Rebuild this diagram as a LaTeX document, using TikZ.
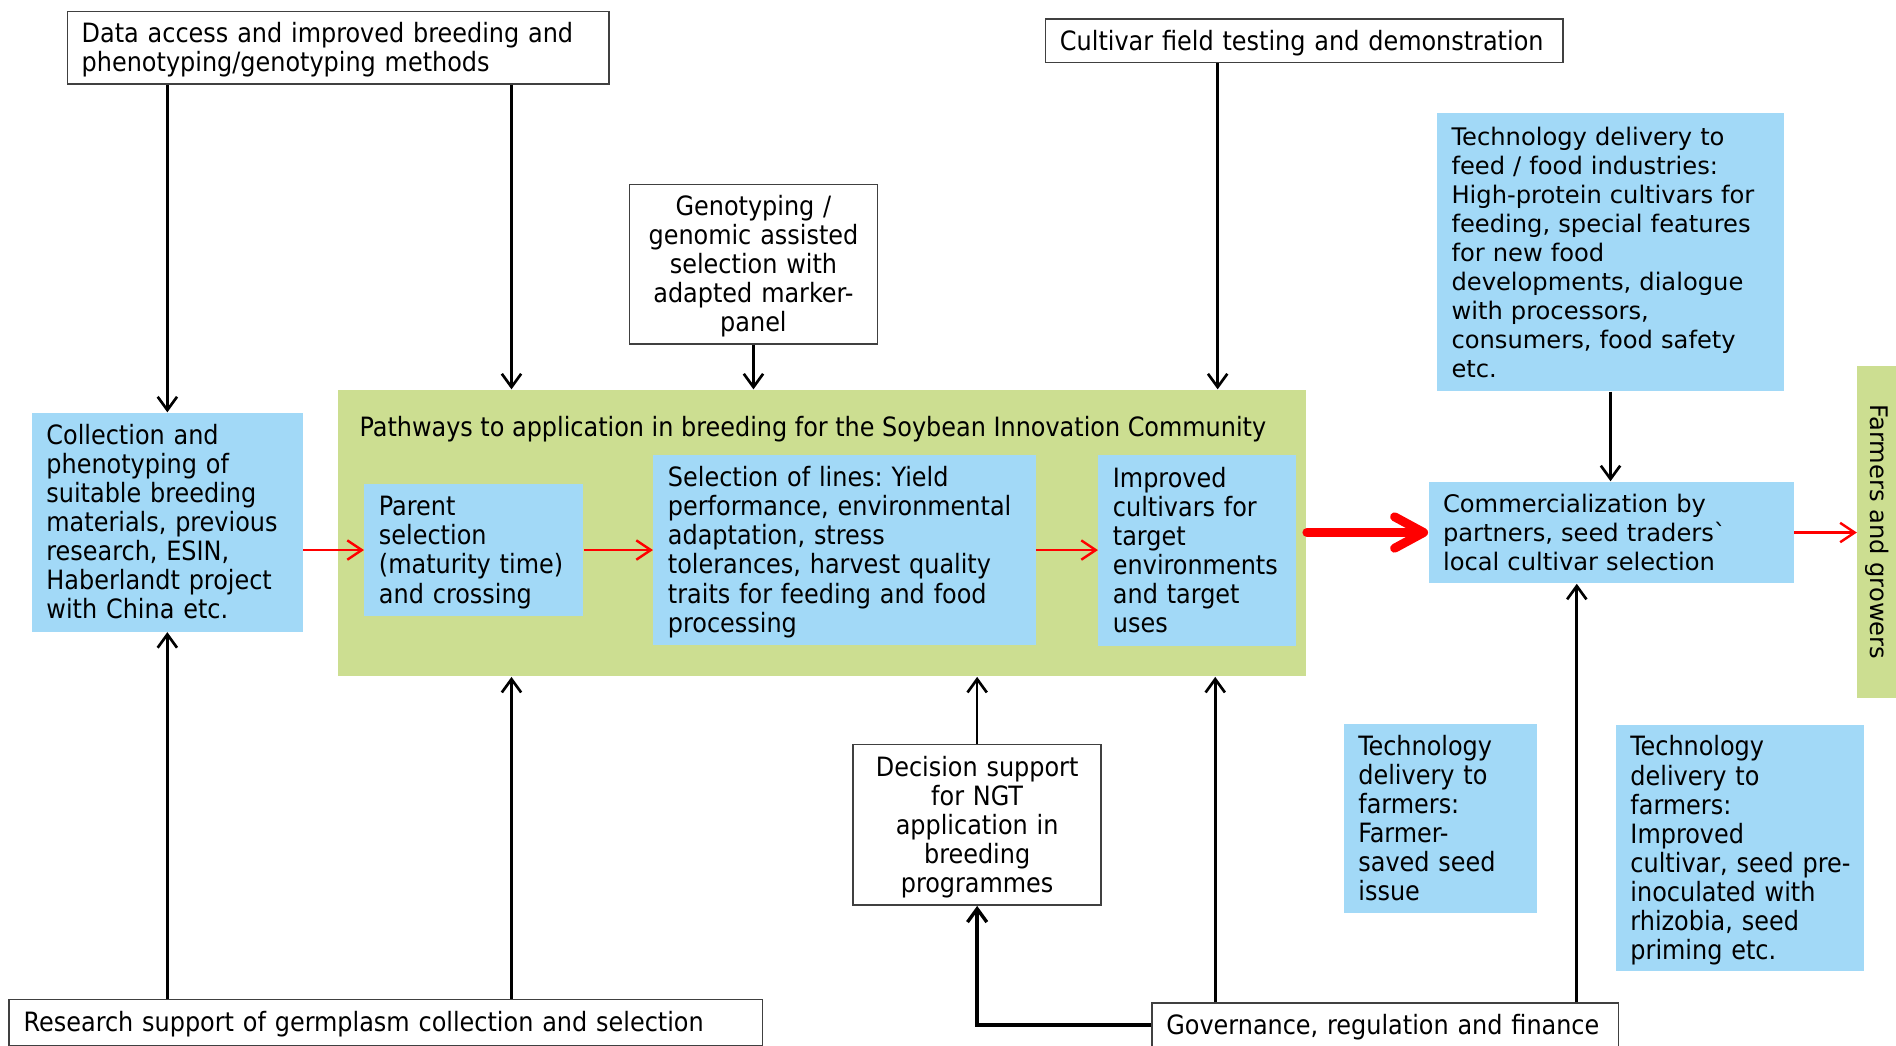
\documentclass[tikz,border=0pt]{standalone}
\usepackage{fontspec}
\setmainfont{DejaVu Sans}[Ligatures=TeXOff]
\newfontfamily\condfont{DejaVu Sans Condensed}[Ligatures=TeXOff]
\usetikzlibrary{arrows.meta,calc}
\definecolor{boxblue}{RGB}{162,217,247}
\definecolor{boxgreen}{RGB}{204,222,145}
\frenchspacing
\newcommand{\Lines}[1]{\raisebox{-1.5pt}[\height][\depth]{\begin{tabular}{@{}l@{}}#1\end{tabular}}}
\newcommand{\CLines}[1]{\raisebox{-1.5pt}[\height][\depth]{\begin{tabular}{@{}c@{}}#1\end{tabular}}}
\tikzset{
  base/.style={anchor=north west, inner xsep=6pt, inner ysep=0pt, align=left},
  widef/.style={font=\fontsize{10}{12}\selectfont},
  condf/.style={font=\condfont\fontsize{11}{12}\selectfont},
  whitebox/.style={base, draw=black!75, line width=0.6pt, fill=white},
  bluebox/.style={base, fill=boxblue},
  greenbox/.style={anchor=north west, fill=boxgreen, inner sep=0pt},
  arr/.style={draw=black, line width=1.1pt, -{Straight Barb[length=5.5pt,width=8pt]}},
  redarr/.style={draw=red, line width=1pt, -{Straight Barb[length=6pt,width=8pt]}},
  bigarr/.style={draw=red, line width=3.7pt, line cap=round,
    -{Straight Barb[length=12pt,width=13pt,line cap=round,line join=round]}}
}
\begin{document}
\begin{tikzpicture}[x=0.5pt,y=-0.5pt]
\useasboundingbox (0,0) rectangle (1568,865);

% green container
\node[greenbox, minimum width=400.5pt, minimum height=118.5pt] (green) at (279,322) {};
\node[condf, anchor=west, inner sep=0pt] (title) at (297,355)
  {Pathways to application in breeding for the Soybean Innovation Community};

% top boxes
\node[whitebox, condf, text width=212pt, minimum height=30pt] (data) at (55,9)
  {\Lines{Data access and improved breeding and\\ phenotyping/genotyping methods}};
\node[whitebox, condf, text width=202pt, minimum height=18pt] (cult) at (864,15)
  {\Lines{Cultivar field testing and demonstration}};
\node[whitebox, condf, text width=90.5pt, minimum height=66pt, align=center] (geno) at (520,152)
  {\CLines{Genotyping /\\ genomic assisted\\ selection with\\ adapted marker-\\ panel}};
\node[bluebox, widef, text width=131.5pt, minimum height=115pt] (feed) at (1188,93)
  {\Lines{Technology delivery to\\ feed / food industries:\\ High-protein cultivars for\\ feeding, special features\\ for new food\\ developments, dialogue\\ with processors,\\ consumers, food safety\\ etc.}};

% middle row
\node[bluebox, condf, text width=100pt, minimum height=90.5pt] (coll) at (26,341)
  {\Lines{Collection and\\ phenotyping of\\ suitable breeding\\ materials, previous\\ research, ESIN,\\ Haberlandt project\\ with China etc.}};
\node[bluebox, condf, text width=78.5pt, minimum height=54.5pt] (par) at (301,400)
  {\Lines{Parent\\ selection\\ (maturity time)\\ and crossing}};
\node[bluebox, condf, text width=146pt, minimum height=78.5pt] (sel) at (540,376)
  {\Lines{Selection of lines: Yield\\ performance, environmental\\ adaptation, stress\\ tolerances, harvest quality\\ traits for feeding and food\\ processing}};
\node[bluebox, condf, text width=69.5pt, minimum height=79pt] (impr) at (908,376)
  {\Lines{Improved\\ cultivars for\\ target\\ environments\\ and target\\ uses}};
\node[bluebox, widef, text width=139pt, minimum height=42pt] (comm) at (1181,398)
  {\Lines{Commercialization by\\ partners, seed traders`\\ local cultivar selection}};
\node[fill=boxgreen, widef, rotate=-90, minimum width=137pt, minimum height=16pt, inner sep=0pt] (farm) at (1552,440)
  {Farmers and growers};

% bottom boxes
\node[whitebox, condf, text width=90.5pt, minimum height=66.5pt, align=center] (dec) at (705,615)
  {\CLines{Decision support\\ for NGT\\ application in\\ breeding\\ programmes}};
\node[bluebox, condf, text width=68pt, minimum height=78.5pt] (tf1) at (1111,598)
  {\Lines{Technology\\ delivery to\\ farmers:\\ Farmer-\\ saved seed\\ issue}};
\node[bluebox, condf, text width=90.5pt, minimum height=102pt] (tf2) at (1336,599)
  {\Lines{Technology\\ delivery to\\ farmers:\\ Improved\\ cultivar, seed pre-\\ inoculated with\\ rhizobia, seed\\ priming etc.}};
\node[whitebox, condf, text width=299.5pt, minimum height=19pt] (res) at (7,826)
  {\Lines{Research support of germplasm collection and selection}};
\node[whitebox, condf, text width=181pt, minimum height=18pt] (gov) at (952,829)
  {\Lines{Governance, regulation and finance}};

% helper x positions
\coordinate (xa) at (423,0);
\coordinate (xc) at (1007,0);
\coordinate (xg) at (1005,0);
\coordinate (xm) at (1304,0);

% black connectors
\draw[arr] (data.south -| coll.north) -- (coll.north);
\draw[arr] (data.south -| xa) -- (green.north -| xa);
\draw[arr] (geno.south) -- (green.north -| geno.south);
\draw[arr] (cult.south -| xc) -- (green.north -| xc);
\draw[arr] (feed.south) -- (comm.north -| feed.south);
\draw[arr] (res.north -| coll.south) -- (coll.south);
\draw[arr] (res.north -| xa) -- (green.south -| xa);
\draw[arr] (dec.north) -- (green.south -| dec.north);
\draw[arr] (gov.north -| xg) -- (green.south -| xg);
\draw[arr] (gov.north -| xm) -- (comm.south -| xm);
\draw[arr, line width=1.4pt] (gov.west) -| (dec.south);

% red connectors
\draw[redarr] (coll.east |- par.west) -- (par.west);
\draw[redarr] (par.east) -- (par.east -| sel.west);
\draw[redarr] (sel.east |- par.east) -- (impr.west |- par.east);
\draw[bigarr] (green.east |- comm.west) -- (comm.west);
\draw[redarr] (comm.east) -- (comm.east -| farm.south);
\end{tikzpicture}
\end{document}
